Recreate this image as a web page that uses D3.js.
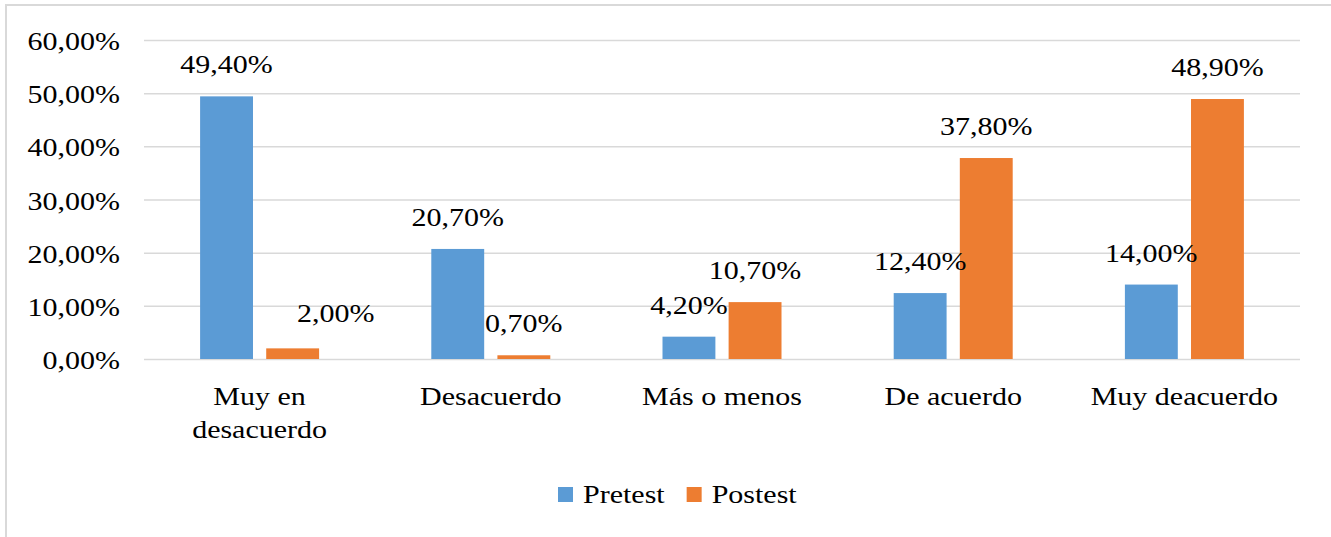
<!DOCTYPE html>
<html>
<head>
<meta charset="utf-8">
<script src="https://cdn.jsdelivr.net/npm/d3@7"></script>
<style>
  body { margin: 0; background: #fff; }
  svg text { font-family: "Liberation Serif", "DejaVu Serif", serif !important; fill: #000; }
</style>
</head>
<body>
<div id="chart"></div>
<script>
// data
var categories = ["Muy en desacuerdo", "Desacuerdo", "Más o menos", "De acuerdo", "Muy deacuerdo"];
var series = ["Pretest", "Postest"];
var pretest = [49.4, 20.7, 4.2, 12.4, 14.0];
var postest = [2.0, 0.7, 10.7, 37.8, 48.9];
var yTicks = [0, 10, 20, 30, 40, 50, 60];

var values = [pretest, postest];
var colors = ["#5b9bd5", "#ed7d31"];

var width = 1331,
    height = 537,
    plot = {left: 144, right: 1300, top: 40, bottom: 359},
    fontSize = 25,
    stretch = 1.2;   // the source picture is stretched sideways

var loc = d3.formatLocale({decimal: ",", thousands: ".", grouping: [3], currency: ["", ""]});
var fmt = function(v) { return loc.format(".2f")(v) + "%"; };

var svg = d3.select("#chart").append("svg")
    .attr("width", width)
    .attr("height", height)
    .attr("font-family", "Liberation Serif");

// outer frame
svg.append("rect")
    .attr("x", 6).attr("y", 5)
    .attr("width", width + 10).attr("height", height + 10)
    .attr("fill", "none")
    .attr("stroke", "#d9d9d9")
    .attr("stroke-width", 2);

var x = d3.scaleBand()
    .domain(categories)
    .range([plot.left, plot.right]);

var xSub = d3.scaleBand()
    .domain(series)
    .range([-59.5, 59.5])
    .paddingInner(0.2);

var y = d3.scaleLinear()
    .domain([0, 60])
    .range([plot.bottom, plot.top]);

// y axis + gridlines
var yAxis = svg.append("g")
    .attr("transform", "translate(" + plot.left + ",0)")
    .call(d3.axisLeft(y)
        .tickValues(yTicks)
        .tickFormat(fmt)
        .tickSize(-(plot.right - plot.left))
        .tickPadding(20));

yAxis.attr("font-family", null).attr("font-size", null);
yAxis.select(".domain").remove();
yAxis.selectAll("line")
    .attr("stroke", "#d9d9d9")
    .attr("stroke-width", 1.5);
yAxis.selectAll("text")
    .attr("dy", "0.38em")
    .attr("transform", "scale(" + stretch + ",1)")
    .style("font-size", fontSize + "px")
    .attr("fill", "#000");

// bars
var bars = [];
series.forEach(function(s, si) {
    categories.forEach(function(c, ci) {
        bars.push({series: s, si: si, cat: c, value: values[si][ci]});
    });
});

svg.append("g").selectAll("rect")
    .data(bars)
    .enter()
    .append("rect")
    .attr("x", d => x(d.cat) + x.bandwidth() / 2 + xSub(d.series))
    .attr("y", d => y(d.value))
    .attr("width", xSub.bandwidth())
    .attr("height", d => y(0) - y(d.value))
    .attr("fill", d => colors[d.si]);

// data labels (one was moved by hand in the original)
var nudge = {"Postest|Muy en desacuerdo": [43, -3]};

svg.append("g").selectAll("text")
    .data(bars)
    .enter()
    .append("text")
    .attr("text-anchor", "middle")
    .style("font-size", fontSize + "px")
    .attr("transform", function(d) {
        var n = nudge[d.series + "|" + d.cat] || [0, 0];
        var cx = x(d.cat) + x.bandwidth() / 2 + xSub(d.series) + xSub.bandwidth() / 2 + n[0];
        var cy = y(d.value) - 23 + n[1];
        return "translate(" + cx + "," + cy + ") scale(" + stretch + ",1)";
    })
    .text(d => fmt(d.value));

// category labels, wrapped when too wide for the band
var catG = svg.append("g");
categories.forEach(function(c) {
    var t = catG.append("text")
        .attr("text-anchor", "middle")
        .style("font-size", fontSize + "px")
        .attr("transform", "translate(" + (x(c) + x.bandwidth() / 2) + ",405) scale(" + stretch + ",1)")
        .text(c);
    if (t.node().getComputedTextLength() * stretch > x.bandwidth() - 10) {
        var words = c.split(" ");
        var lines = [], line = [];
        t.text(null);
        var probe = t.append("tspan");
        words.forEach(function(w) {
            line.push(w);
            probe.text(line.join(" "));
            if (probe.node().getComputedTextLength() * stretch > x.bandwidth() - 10 && line.length > 1) {
                line.pop();
                lines.push(line.join(" "));
                line = [w];
            }
        });
        lines.push(line.join(" "));
        probe.remove();
        lines.forEach(function(l, i) {
            t.append("tspan").attr("x", 0).attr("dy", i ? 33 : 0).text(l);
        });
    }
});

// legend
var legend = svg.append("g").attr("transform", "translate(558,487)");
var lx = 0;
series.forEach(function(s, i) {
    var g = legend.append("g").attr("transform", "translate(" + lx + ",0)");
    g.append("rect")
        .attr("width", 15).attr("height", 15)
        .attr("fill", colors[i]);
    var t = g.append("text")
        .attr("transform", "translate(25,16) scale(" + stretch + ",1)")
        .style("font-size", fontSize + "px")
        .text(s);
    lx += 25 + t.node().getComputedTextLength() * stretch + 22;
});
</script>
</body>
</html>
